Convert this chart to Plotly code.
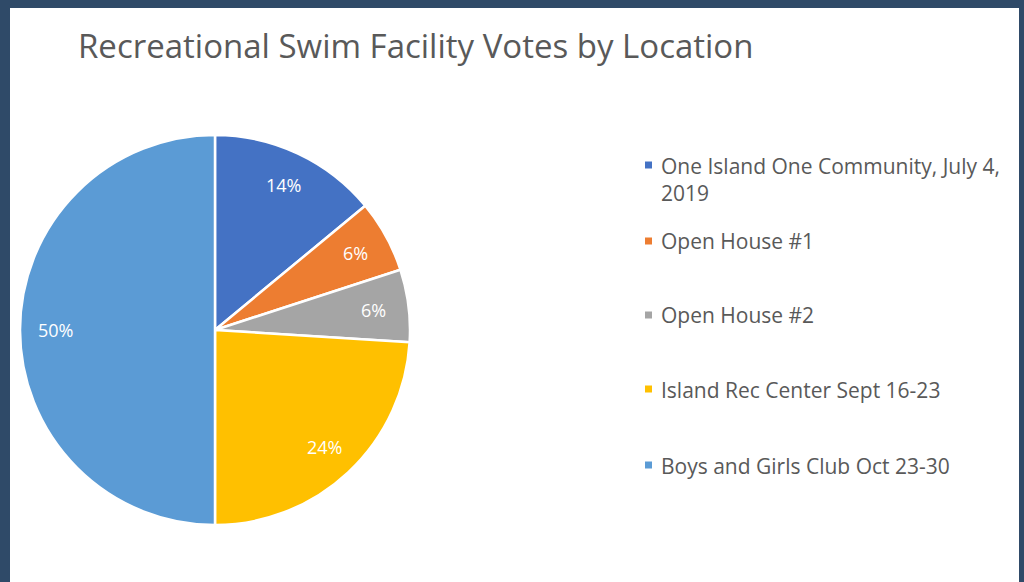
import math
import plotly.graph_objects as go

# ---- data ----
locations = [
    "One Island One Community, July 4, 2019",
    "Open House #1",
    "Open House #2",
    "Island Rec Center Sept 16-23",
    "Boys and Girls Club Oct 23-30",
]
legend_labels = [
    "One Island One Community, July 4,<br>2019",
    "Open House #1",
    "Open House #2",
    "Island Rec Center Sept 16-23",
    "Boys and Girls Club Oct 23-30",
]
vote_share = [14, 6, 6, 24, 50]
colors = ["#4472C4", "#ED7D31", "#A5A5A5", "#FFC000", "#5B9BD5"]
title_text = "Recreational Swim Facility Votes by Location"

W, H = 1024, 582
BORDER = "#2F4A68"
FONT = "Open Sans, Noto Sans, sans-serif"

# pie placement (pixels)
cx, cy, r = 215, 330, 195

fig = go.Figure()
fig.add_trace(go.Pie(
    labels=locations,
    values=vote_share,
    sort=False,
    direction="clockwise",
    rotation=0,
    marker=dict(colors=colors, line=dict(color="white", width=2.5)),
    textinfo="none",
    hoverinfo="label+percent",
    showlegend=False,
    domain=dict(x=[(cx - r) / W, (cx + r) / W], y=[1 - (cy + r) / H, 1 - (cy - r) / H]),
))

annotations = []
# percentage labels computed from the data
total = sum(vote_share)
cum = 0
for v in vote_share:
    mid = (cum + v / 2) / total * 2 * math.pi
    cum += v
    lx = cx + 0.82 * r * math.sin(mid)
    ly = cy - 0.82 * r * math.cos(mid)
    annotations.append(dict(
        x=lx / W, y=1 - ly / H, xref="paper", yref="paper",
        text=f"{round(v / total * 100)}%", showarrow=False,
        font=dict(family=FONT, size=18, color="white"),
        xanchor="center", yanchor="middle",
    ))

# title
annotations.append(dict(
    x=76 / W, y=1 - 46 / H, xref="paper", yref="paper",
    text=title_text, showarrow=False, xanchor="left", yanchor="middle",
    font=dict(family=FONT, size=33, color="#595959"),
))

# legend (manual)
shapes = [dict(type="rect", xref="paper", yref="paper", layer="below",
               x0=10 / W, x1=1019 / W, y0=0, y1=1 - 8 / H,
               fillcolor="white", line=dict(width=0))]
legend_y = [165, 241, 315, 389, 465]
for lbl, col, ly in zip(legend_labels, colors, legend_y):
    shapes.append(dict(type="rect", xref="paper", yref="paper",
                       x0=645 / W, x1=652 / W, y0=1 - (ly + 3.5) / H, y1=1 - (ly - 3.5) / H,
                       fillcolor=col, line=dict(width=0)))
    annotations.append(dict(
        x=659 / W, y=1 - (ly - 15.5) / H, xref="paper", yref="paper",
        text=lbl, showarrow=False, xanchor="left", yanchor="top", align="left",
        font=dict(family=FONT, size=21, color="#595959"),
    ))

fig.update_layout(
    width=W, height=H,
    margin=dict(l=0, r=0, t=0, b=0),
    paper_bgcolor=BORDER,
    plot_bgcolor=BORDER,
    shapes=shapes,
    annotations=annotations,
)

fig.write_html(
    "out.html",
    config={"displayModeBar": False},
    post_script="document.body.style.margin='0';document.body.style.background='#2F4A68';",
)
